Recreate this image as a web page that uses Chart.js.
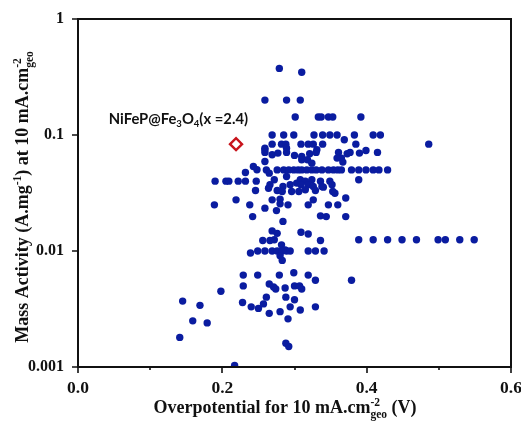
<!DOCTYPE html>
<html><head><meta charset="utf-8">
<script src="https://cdn.jsdelivr.net/npm/chart.js@4/dist/chart.umd.min.js"></script>
<style>html,body{margin:0;padding:0;background:#fff;}</style>
</head><body>
<canvas id="c" width="521" height="422"></canvas>
<script>
// Overpotential (V) of literature catalysts
const overpotential = [
0.279,0.310,0.259,0.289,0.308,0.301,0.333,0.337,0.347,0.353,0.392,
0.269,0.285,0.299,0.327,0.339,0.349,0.359,0.383,0.409,0.419,
0.369,0.486,0.259,0.269,0.282,0.288,0.309,0.319,0.326,0.339,0.385,0.259,0.289,0.399,0.331,
0.259,0.269,0.277,0.289,0.300,0.310,0.321,0.330,0.361,0.373,0.377,0.390,0.415,0.365,0.359,
0.259,0.310,0.318,0.367,0.243,0.248,0.324,
0.261,0.276,0.285,0.292,0.299,0.305,0.310,0.317,0.324,0.330,0.338,0.347,0.354,0.360,0.365,0.379,0.389,0.399,0.409,0.417,0.429,
0.232,0.265,
0.190,0.205,0.209,0.222,0.232,0.247,0.272,0.289,0.308,0.315,0.324,0.336,0.349,0.389,
0.266,0.284,0.294,0.303,0.309,0.319,0.326,0.338,0.352,
0.246,0.264,0.276,0.283,0.296,0.306,0.315,0.329,0.340,0.353,0.356,
0.219,0.269,0.280,0.326,0.371,0.238,0.280,0.291,0.319,0.347,0.360,0.189,0.259,0.275,
0.242,0.336,0.344,0.371,0.284,
0.269,0.276,0.309,0.319,0.256,0.266,0.272,0.336,
0.389,0.409,0.429,0.449,0.469,0.499,0.509,0.529,0.549,
0.282,0.287,0.239,0.249,0.259,0.269,0.276,0.283,0.289,0.294,0.319,0.329,0.341,0.280,0.283,
0.229,0.249,0.279,0.299,0.319,0.329,0.379,0.198,0.229,0.265,0.271,0.274,0.287,0.300,0.307,0.310,
0.145,0.169,0.228,0.240,0.250,0.257,0.261,0.288,0.300,0.294,0.308,0.329,0.265,0.280,0.291,
0.159,0.179,0.141,0.288,0.292,0.217
];
// Mass activity (A/mg) at 10 mA/cm2
const massActivity = [
0.375,0.347,0.2,0.2,0.2,0.143,0.143,0.143,0.143,0.143,0.143,
0.1,0.1,0.1,0.1,0.1,0.1,0.1,0.1,0.1,0.1,
0.091,0.0834,0.077,0.0834,0.0834,0.0834,0.0834,0.0834,0.0834,0.0834,0.0834,0.0746,0.077,0.0736,0.0746,
0.0708,0.0675,0.0698,0.0708,0.0667,0.0653,0.0689,0.0708,0.0708,0.0689,0.0708,0.0698,0.0708,0.0632,0.0632,
0.0591,0.0611,0.0611,0.0584,0.0535,0.0501,0.0572,
0.05,0.05,0.05,0.05,0.05,0.05,0.05,0.05,0.05,0.05,0.05,0.05,0.05,0.05,0.05,0.05,0.05,0.05,0.05,0.05,0.05,
0.0475,0.0469,
0.04,0.04,0.04,0.04,0.04,0.04,0.0411,0.0439,0.0411,0.04,0.0411,0.04,0.04,0.0411,
0.0372,0.036,0.0372,0.0385,0.0372,0.0372,0.036,0.036,0.0372,
0.0332,0.0348,0.0332,0.0326,0.0326,0.0326,0.0337,0.0332,0.0355,0.0326,0.0315,
0.0276,0.0276,0.028,0.0276,0.0286,0.025,0.0255,0.025,0.025,0.025,0.025,0.025,0.0234,0.0223,
0.0198,0.0201,0.0198,0.0198,0.018,
0.0149,0.0142,0.0145,0.014,0.0123,0.0123,0.0125,0.0123,
0.0125,0.0125,0.0125,0.0125,0.0125,0.0125,0.0125,0.0125,0.0125,
0.0113,0.0102,0.0096,0.01,0.01,0.01,0.01,0.01,0.01,0.01,0.01,0.01,0.01,0.0091,0.0083,
0.0062,0.0062,0.0062,0.0065,0.0062,0.0056,0.0056,0.0045,0.005,0.0052,0.0049,0.0047,0.0048,0.005,0.005,0.0047,
0.0037,0.0034,0.0036,0.0033,0.0032,0.0035,0.004,0.004,0.0038,0.0033,0.0031,0.0033,0.0029,0.003,0.0026,
0.0025,0.0024,0.0018,0.0016,0.0015,0.00103
];
// Highlighted catalyst
const highlightX = [0.219];
const highlightY = [0.0834];
const highlightLabel = [['NiFeP@Fe',''],['3','sub'],['O',''],['4','sub'],['(x =2.4)','']];
const xTickLabels = ['0.0','0.2','0.4','0.6'];
const yTickLabels = ['0.001','0.01','0.1','1'];
const xTitle = [['Overpotential for 10 mA.cm',''],['-2','sup','geo'],[' (V)','']];
const yTitle = [['Mass Activity (A.mg',''],['-1','sup'],[') at 10 mA.cm',''],['-2','sup','geo']];

const SERIF = '"Liberation Serif", "Times New Roman", serif';

function richWidth(ctx, segs, base, small){
  let w = 0;
  for (const s of segs){
    if (!s[1]) { ctx.font = base; w += ctx.measureText(s[0]).width; }
    else { ctx.font = small; let a = ctx.measureText(s[0]).width; if (s[2]) a = Math.max(a, ctx.measureText(s[2]).width); w += a; }
  }
  return w;
}
function drawRich(ctx, segs, x, y, base, small, supOff, subOff){
  let cx = x;
  for (const s of segs){
    if (!s[1]) { ctx.font = base; ctx.fillText(s[0], cx, y); cx += ctx.measureText(s[0]).width; }
    else {
      ctx.font = small;
      let a = ctx.measureText(s[0]).width;
      if (s[1] === 'sup') ctx.fillText(s[0], cx, y - supOff);
      else ctx.fillText(s[0], cx, y + subOff);
      if (s[2]) { ctx.fillText(s[2], cx, y + subOff); a = Math.max(a, ctx.measureText(s[2]).width); }
      cx += a;
    }
  }
}

const decor = {
  id: 'decor',
  afterDraw(chart){
    const ctx = chart.ctx, a = chart.chartArea;
    const xs = chart.scales.x, ys = chart.scales.y;
    ctx.save();
    ctx.strokeStyle = '#111'; ctx.lineWidth = 2;
    ctx.strokeRect(a.left, a.top, a.right - a.left, a.bottom - a.top);
    ctx.lineWidth = 1.6;
    ctx.beginPath();
    xs.ticks.forEach((t, i) => {
      const px = Math.round(xs.getPixelForValue(t.value));
      const len = (i % 2 === 0) ? 6 : 3;
      ctx.moveTo(px, a.bottom); ctx.lineTo(px, a.bottom + len);
    });
    ys.ticks.forEach((t) => {
      const py = Math.round(ys.getPixelForValue(t.value)) ;
      const major = t.label !== null && t.label !== undefined && t.label !== '';
      const len = major ? 6 : 3;
      ctx.moveTo(a.left, py); ctx.lineTo(a.left - len, py);
    });
    ctx.stroke();

    ctx.fillStyle = '#111';
    ctx.textBaseline = 'alphabetic';
    ctx.textAlign = 'left';
    // x title
    let base = 'bold 18px ' + SERIF, small = 'bold 11.5px ' + SERIF;
    let w = richWidth(ctx, xTitle, base, small);
    drawRich(ctx, xTitle, 285 - w / 2, 413, base, small, 7, 5);
    // y title
    ctx.save();
    ctx.translate(28, (a.top + a.bottom) / 2 + 4);
    ctx.rotate(-Math.PI / 2);
    w = richWidth(ctx, yTitle, base, small);
    drawRich(ctx, yTitle, -w / 2, 0, base, small, 7, 5);
    ctx.restore();
    // annotation
    const meta = chart.getDatasetMeta(1).data[0];
    base = 'bold 14.8px Lato, "Open Sans", sans-serif'; small = 'bold 9.5px Lato, "Open Sans", sans-serif';
    w = richWidth(ctx, highlightLabel, base, small);
    drawRich(ctx, highlightLabel, meta.x + 12 - w, meta.y - 20, base, small, 5, 3);
    ctx.restore();
  }
};

new Chart(document.getElementById('c'), {
  type: 'scatter',
  data: {
    datasets: [
      {
        data: overpotential.map((v, i) => ({x: v, y: massActivity[i]})),
        pointRadius: 3.7, pointHoverRadius: 3.7,
        backgroundColor: '#0a1ca0', borderWidth: 0, pointStyle: 'circle'
      },
      {
        data: highlightX.map((v, i) => ({x: v, y: highlightY[i]})),
        pointRadius: 6, pointHoverRadius: 6, pointStyle: 'rectRot',
        backgroundColor: '#ffffff', borderColor: '#c8141c', borderWidth: 2.4
      }
    ]
  },
  options: {
    responsive: false, animation: false, devicePixelRatio: 1,
    layout: { padding: { top: 19, right: 10, left: 0, bottom: 0 } },
    plugins: { legend: { display: false }, tooltip: { enabled: false } },
    scales: {
      x: {
        type: 'linear', min: 0, max: 0.6,
        grid: { display: false, drawTicks: false }, border: { display: false },
        ticks: {
          stepSize: 0.1, autoSkip: false, maxRotation: 0, padding: 11,
          color: '#111', font: { family: SERIF, size: 17.5, weight: 'bold' },
          callback: (v, i) => (i % 2 === 0 ? xTickLabels[i / 2] : '')
        },
        afterFit: s => { s.height = 55; s.paddingLeft = 0; s.paddingRight = 0; }
      },
      y: {
        type: 'logarithmic', min: 0.001, max: 1,
        grid: { display: false, drawTicks: false }, border: { display: false },
        ticks: {
          autoSkip: false, padding: 14,
          color: '#111', font: { family: SERIF, size: 16, weight: 'bold' },
          callback: v => {
            const l = Math.log10(v), r = Math.round(l);
            return Math.abs(l - r) < 1e-6 ? yTickLabels[r + 3] : null;
          }
        },
        afterFit: s => { s.width = 78; s.paddingTop = 0; s.paddingBottom = 0; }
      }
    }
  },
  plugins: [decor]
});
</script>
</body></html>
